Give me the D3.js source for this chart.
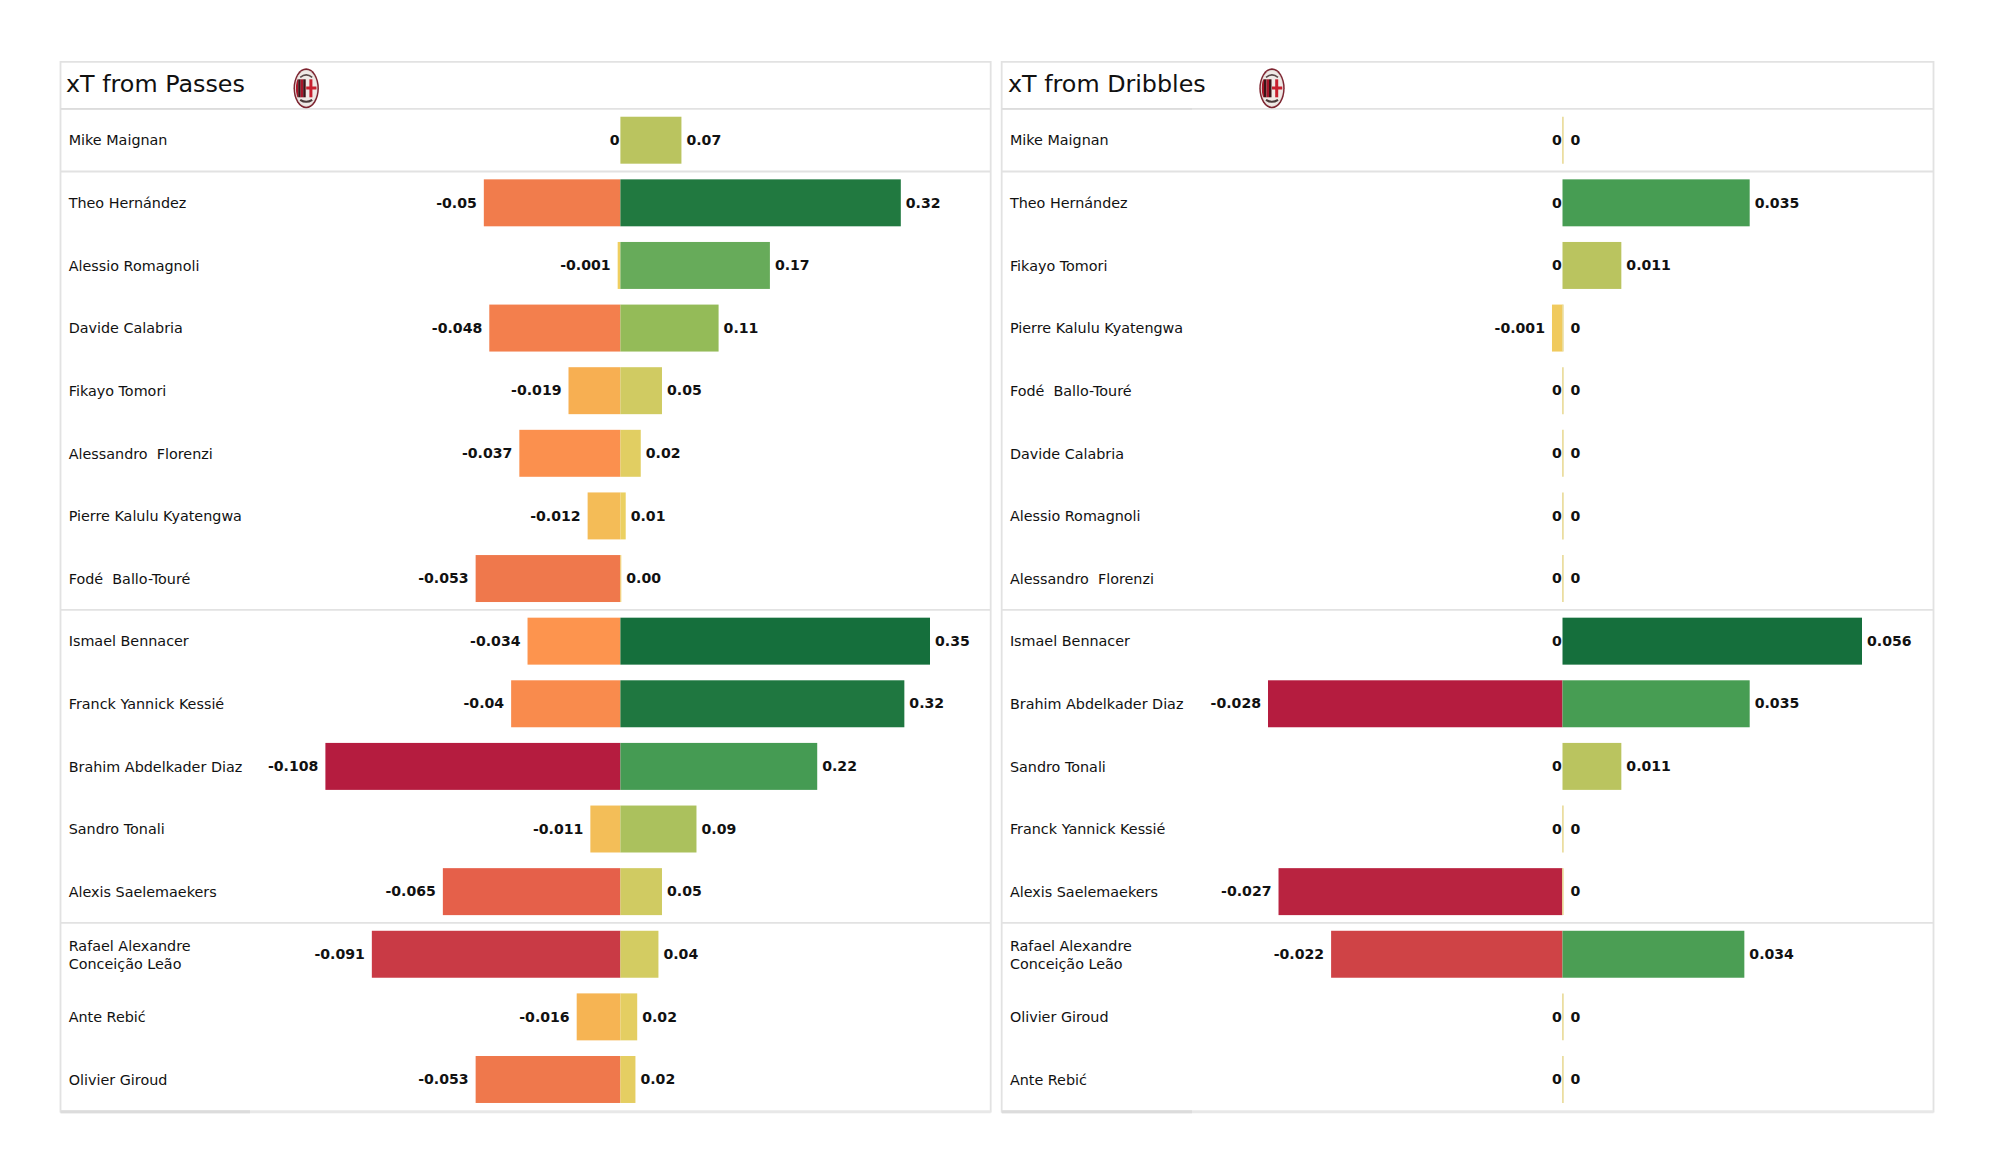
<!DOCTYPE html>
<html><head><meta charset="utf-8">
<script src="https://cdn.jsdelivr.net/npm/d3@7"></script>
<style>
html,body{margin:0;padding:0;background:#fff}
svg{display:block}
text{font-family:"DejaVu Sans",sans-serif;white-space:pre;fill:#111}
</style></head><body>
<svg id="c" width="2000" height="1175"></svg>
<script>
// Panel 1: xT from Passes
const passNames = ["Mike Maignan","Theo Hernández","Alessio Romagnoli","Davide Calabria","Fikayo Tomori","Alessandro  Florenzi","Pierre Kalulu Kyatengwa","Fodé  Ballo-Touré","Ismael Bennacer","Franck Yannick Kessié","Brahim Abdelkader Diaz","Sandro Tonali","Alexis Saelemaekers","Rafael Alexandre\nConceição Leão","Ante Rebić","Olivier Giroud"];
const passNeg = [0,-0.05,-0.001,-0.048,-0.019,-0.037,-0.012,-0.053,-0.034,-0.04,-0.108,-0.011,-0.065,-0.091,-0.016,-0.053];
const passPos = [0.069,0.317,0.169,0.111,0.047,0.023,0.006,0.001,0.35,0.321,0.2225,0.086,0.047,0.043,0.019,0.017];
// Panel 2: xT from Dribbles
const dribNames = ["Mike Maignan","Theo Hernández","Fikayo Tomori","Pierre Kalulu Kyatengwa","Fodé  Ballo-Touré","Davide Calabria","Alessio Romagnoli","Alessandro  Florenzi","Ismael Bennacer","Brahim Abdelkader Diaz","Sandro Tonali","Franck Yannick Kessié","Alexis Saelemaekers","Rafael Alexandre\nConceição Leão","Olivier Giroud","Ante Rebić"];
const dribNeg = [0,0,0,-0.001,0,0,0,0,0,-0.028,0,0,-0.027,-0.022,0,0];
const dribPos = [0,0.035,0.011,0,0,0,0,0,0.056,0.035,0.011,0,0,0.034,0,0];
const titles = ["xT from Passes","xT from Dribbles"];
const groupEnds = [0,7,12]; // last row index of each position group

const colorStops = [-1,-0.84,-0.6,-0.49,-0.315,-0.15,-0.1,0,0.057,0.143,0.2,0.257,0.314,0.486,0.63,0.91,1];
const colorVals = ["#B51C3F","#C93A45","#E5604A","#EF784C","#FD944E","#F6B453","#F3BE58","#EFD161","#E3CE62","#CECB62","#B9C45F","#A8C05D","#95BB58","#66AB5A","#469C53","#207840","#156F3C"];
const color = d3.scaleLinear().domain(colorStops).range(colorVals);

const svg = d3.select("#c");
const y = d3.scaleBand().domain(d3.range(16)).range([108.9,1110.8]).paddingInner(0.25).paddingOuter(0.125);
const defs = svg.append("defs");

function crest(g, id){
  defs.append("clipPath").attr("id",id).append("ellipse").attr("rx",10.3).attr("ry",17.2);
  g.append("ellipse").attr("rx",12.7).attr("ry",20).attr("fill","#7d2430");
  g.append("ellipse").attr("rx",11.2).attr("ry",18.4).attr("fill","#e6e0dc");
  const inner = g.append("g").attr("clip-path",`url(#${id})`);
  inner.append("rect").attr("x",-11).attr("y",-18).attr("width",22).attr("height",36).attr("fill","#efe9e6");
  ["#a8162a","#3a1418","#a8162a","#3a1418"].forEach((c,i)=>{
    inner.append("rect").attr("x",-10.5+i*2.5).attr("y",-9).attr("width",2.5).attr("height",18).attr("fill",c);
  });
  inner.append("rect").attr("x",3.2).attr("y",-9).attr("width",3).attr("height",18).attr("fill","#c8202f");
  inner.append("rect").attr("x",0).attr("y",-1.8).attr("width",11).attr("height",3).attr("fill","#c8202f");
  g.append("path").attr("d","M-6,-11 Q0,-16 6,-11").attr("fill","none").attr("stroke","#5a4a4a").attr("stroke-width",1.6);
  g.append("path").attr("d","M-6,11.5 Q0,15.5 6,11.5").attr("fill","none").attr("stroke","#4a3a3a").attr("stroke-width",2);
}

function panel(i, names, neg, pos, x0, x1, zero, negEnd, posEnd, titleX, crestX, dkEnd){
  const g = svg.append("g");
  const xN = d3.scaleLinear().domain([d3.min(neg),0]).range([negEnd,zero]);
  const xP = d3.scaleLinear().domain([0,d3.max(pos)]).range([zero,posEnd]);
  const cN = v => color(v/Math.abs(d3.min(neg)));
  const cP = v => color(v/d3.max(pos));
  const fmtPos = i===0 ? d3.format(".2f") : (v=>String(v));

  // frame
  const lineCol = "#e2e2e2";
  const hl = groupEnds.map(e=>y(e)+y.bandwidth()+y.step()*y.paddingInner()/2);
  g.selectAll(".h").data([61.8,108.9,...hl]).join("line")
    .attr("x1",x0).attr("x2",x1).attr("y1",d=>d).attr("y2",d=>d)
    .attr("stroke",lineCol).attr("stroke-width",1.8);
  g.selectAll(".v").data([x0,x1]).join("line").attr("x1",d=>d).attr("x2",d=>d).attr("y1",61).attr("y2",1112.5)
    .attr("stroke",lineCol).attr("stroke-width",1.8);
  g.append("line").attr("x1",x0).attr("x2",x1).attr("y1",1111.8).attr("y2",1111.8)
    .attr("stroke","#e8e8e8").attr("stroke-width",3);
  g.selectAll(".dk").data([[108.9,1.8],[1111.8,3]]).join("line").attr("x1",x0).attr("x2",dkEnd).attr("y1",d=>d[0]).attr("y2",d=>d[0])
    .attr("stroke","#dcdcdc").attr("stroke-width",d=>d[1]);

  g.append("text").attr("x",titleX).attr("y",92).attr("font-size",23.8).text(titles[i]);
  crest(g.append("g").attr("transform",`translate(${crestX},88.3)`), "cr"+i);

  const rows = d3.range(16);
  g.selectAll(".neg").data(rows).join("rect")
    .attr("x",d=>xN(neg[d])).attr("y",d=>y(d))
    .attr("width",d=>zero-xN(neg[d])).attr("height",y.bandwidth())
    .attr("fill",d=>cN(neg[d]));
  g.selectAll(".pos").data(rows).join("rect")
    .attr("x",zero).attr("y",d=>y(d))
    .attr("width",d=>xP(pos[d])-zero).attr("height",y.bandwidth())
    .attr("fill",d=>cP(pos[d]));
  // thin pale tick for rows with no positive value
  g.selectAll(".zero").data(rows.filter(d=>pos[d]===0)).join("line")
    .attr("x1",zero+0.4).attr("x2",zero+0.4).attr("y1",d=>y(d)).attr("y2",d=>y(d)+y.bandwidth())
    .attr("stroke","#E9DA96").attr("stroke-width",1.6);

  const cy = d => y(d)+y.bandwidth()/2;
  // names
  const nm = g.selectAll(".nm").data(rows).join("text").attr("font-size",14.35).attr("fill","#1a1a1a");
  nm.each(function(d){
    const parts = names[d].split("\n");
    const t = d3.select(this);
    parts.forEach((p,k)=>{
      t.append("tspan").attr("x",x0+8.2)
       .attr("y",cy(d)+(parts.length>1?6:5.2)+(k-(parts.length-1)/2)*17.8).text(p);
    });
  });
  // value labels
  g.selectAll(".ln").data(rows).join("text")
    .attr("font-size",14.1).attr("font-weight","bold").attr("text-anchor","end")
    .attr("x",d=>neg[d]===0?zero-0.8:xN(neg[d])-7).attr("y",d=>cy(d)+4.7)
    .text(d=>String(neg[d]));
  g.selectAll(".lp").data(rows).join("text")
    .attr("font-size",14.1).attr("font-weight","bold")
    .attr("x",d=>pos[d]===0?zero+8:xP(pos[d])+5).attr("y",d=>cy(d)+4.7)
    .text(d=>pos[d]===0?"0":fmtPos(pos[d]));
}
panel(0, passNames, passNeg, passPos, 60.5, 990.7, 620.4, 325.4, 930, 66, 306.2, 250);
panel(1, dribNames, dribNeg, dribPos, 1001.7, 1933.5, 1562.5, 1268, 1862, 1008, 1272, 1192);
</script>
</body></html>
